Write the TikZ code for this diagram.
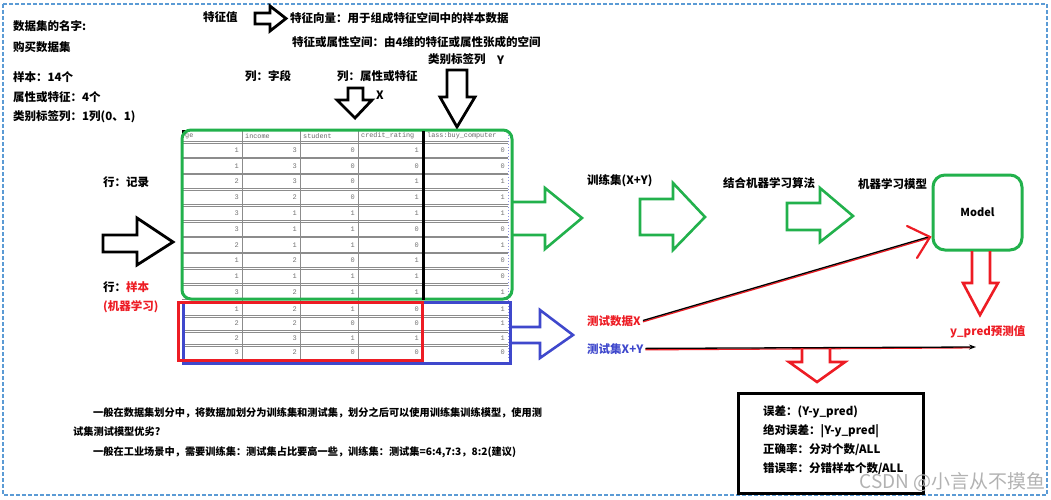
\documentclass[tikz,border=0pt]{standalone}
\usepackage{fontspec}
\setmainfont{Noto Sans CJK SC}
\newfontfamily\tblfont{Liberation Mono}
\usetikzlibrary{arrows.meta}
\definecolor{pgreen}{RGB}{34,177,76}
\definecolor{pred}{RGB}{237,28,36}
\definecolor{pblue}{RGB}{63,72,204}
\definecolor{bord}{RGB}{91,155,213}
\begin{document}
\begin{tikzpicture}[x=1pt,y=-1pt,
  txt/.style={font=\fontsize{11.5}{13}\selectfont\bfseries, anchor=west, inner sep=0pt},
  para/.style={font=\fontsize{10.2}{12}\selectfont\bfseries, anchor=west, inner sep=0pt},
  cell/.style={font=\tblfont\fontsize{7}{8}\selectfont, text=black!55, anchor=east, inner sep=0pt},
  head/.style={font=\tblfont\fontsize{6.8}{7}\selectfont, text=black!60, anchor=west, inner sep=0pt},
  blkarrow/.style={draw=black, line width=2.8, line join=miter},
  grnarrow/.style={draw=pgreen, line width=2.6, line join=miter},
  redarrow/.style={draw=pred, line width=2.6, line join=miter},
  bluarrow/.style={draw=pblue, line width=2.6, line join=miter},
  rowline/.style={draw=black!45, line width=0.5},
]
\useasboundingbox (0,0) rectangle (1051,500);
\draw[bord, line width=1.2, dash pattern=on 4pt off 2pt] (3,4) rectangle (1047,495);

% left texts
\node[txt] (n1) at (13,26) {数据集的名字:};
\node[txt] (n2) at (13,47) {购买数据集};
\node[txt] (n3) at (13,77) {样本：14个};
\node[txt] (n4) at (13,97) {属性或特征：4个};
\node[txt] (n5) at (13,117) {类别标签列：1列(0、1)};

% top texts
\node[txt] (fv) at (203,17) {特征值};
\node[txt] (fvec) at (290,18) {特征向量：用于组成特征空间中的样本数据};
\node[txt] (fsp) at (292,42) {特征或属性空间：由4维的特征或属性张成的空间};
\node[txt] (lbl) at (428,59) {类别标签列};
\node[txt] (ylbl) at (497,60) {Y};
\node[txt] (col1) at (245,76) {列：字段};
\node[txt] (col2) at (337,76) {列：属性或特征};
\node[txt] (xlbl) at (376,95) {X};

\draw[blkarrow] (255,13) -- (270,13) -- (270,6) -- (286,18.5) -- (270,31) -- (270,24) -- (255,24) -- cycle;
\draw[blkarrow] (348,88) -- (363,88) -- (363,100) -- (372,100) -- (355,118) -- (337,100) -- (348,100) -- cycle;
\draw[blkarrow] (447,70) -- (467,70) -- (467,97) -- (475,97) -- (457,127) -- (440,97) -- (447,97) -- cycle;

% left row labels
\node[txt] (row1) at (103,182) {行：记录};
\node[txt] (row2) at (103,287) {行：\textcolor{pred}{样本}};
\node[txt, text=pred] (row3) at (103,307) {(机器学习)};
\draw[blkarrow] (103,235) -- (137,235) -- (137,218) -- (173,242) -- (137,265) -- (137,252) -- (103,252) -- cycle;

% table grid
\foreach \k in {0,...,10} {
  \draw[rowline] (182,142+\k*15.8-0.8) -- (508,142+\k*15.8-0.8);
  \draw[rowline] (182,142+\k*15.8+0.8) -- (508,142+\k*15.8+0.8);
}
\foreach \yy in {316.5,331,345.5} {
  \draw[rowline] (182,\yy-0.8) -- (508,\yy-0.8);
  \draw[rowline] (182,\yy+0.8) -- (508,\yy+0.8);
}
\foreach \xx in {242,300,358} \draw[draw=black!45, line width=0.6] (\xx,130) -- (\xx,360);
\draw[pblue!60, dotted, line width=1] (508,132) -- (508,360);
\fill[black] (182,130) -- (189,130) -- (182,137) -- cycle;

\node[head] (h1) at (185,136) {ge};
\node[head] (h2) at (245,136) {income};
\node[head] (h3) at (303,136) {student};
\node[head] (h4) at (361,136) {credit\_rating};
\node[head] (h5) at (427,136) {lass:buy\_computer};

\foreach \a/\b/\c/\d/\e [count=\i from 0] in {1/3/0/1/0,1/3/0/0/0,2/3/0/1/1,3/2/0/1/1,3/1/1/1/1,3/1/1/0/0,2/1/1/0/1,1/2/0/1/0,1/1/1/1/0,3/2/1/1/1} {
  \node[cell] (ta\i) at (239,150+\i*15.8) {\a};
  \node[cell] (tb\i) at (297,150+\i*15.8) {\b};
  \node[cell] (tc\i) at (355,150+\i*15.8) {\c};
  \node[cell] (td\i) at (419,150+\i*15.8) {\d};
  \node[cell] (te\i) at (505,150+\i*15.8) {\e};
}
\foreach \a/\b/\c/\d/\e/\yy [count=\i] in {1/2/1/0/1/309,2/2/0/0/1/323.5,2/3/1/1/1/338,3/2/0/0/0/352.5} {
  \node[cell] (sa\i) at (239,\yy) {\a};
  \node[cell] (sb\i) at (297,\yy) {\b};
  \node[cell] (sc\i) at (355,\yy) {\c};
  \node[cell] (sd\i) at (419,\yy) {\d};
  \node[cell] (se\i) at (505,\yy) {\e};
}

% frames
\draw[pgreen, line width=3, rounded corners=9] (182,130) rectangle (512,299);
\draw[black, line width=3] (423,131) -- (423,300);
\draw[pblue, line width=3] (183,302) rectangle (510,363);
\draw[pred, line width=3] (178,302) rectangle (422,360);

% green flow arrows
\draw[grnarrow] (512,202) -- (545,202) -- (545,188) -- (582,218) -- (545,249) -- (545,235) -- (512,235);
\draw[grnarrow] (640,199) -- (673,199) -- (673,183) -- (705,217) -- (673,250) -- (673,235) -- (640,235) -- cycle;
\draw[grnarrow] (787,203) -- (820,203) -- (820,188) -- (853,216) -- (820,242) -- (820,230) -- (787,230) -- cycle;
\node[txt] (train) at (587,181) {训练集(X+Y)};
\node[txt] (algo) at (723,183) {结合机器学习算法};
\node[txt] (mlm) at (858,184) {机器学习模型};

\node[draw=pgreen, line width=3, rounded corners=12, minimum width=89, minimum height=75, font=\fontsize{11}{13}\selectfont\bfseries] (model) at (977.5,212.5) {Model};
\draw[redarrow] (972,251) -- (972,283) -- (963,283) -- (980,315) -- (998,283) -- (990,283) -- (990,251);
\node[txt, text=pred] (ypred) at (950,332) {y\_pred预测值};

% test part
\draw[bluarrow] (510,327) -- (540,327) -- (540,310) -- (573,335) -- (540,358) -- (540,343) -- (510,343);
\node[txt, text=pred] (tx) at (587,321) {测试数据X};
\node[txt, text=pblue] (ts) at (587,349) {测试集X+Y};
\coordinate (mtip) at (930,237);
\coordinate (ptip) at (976,347);
\draw[pred, line width=1.3] ([xshift=2pt,yshift=-0.8pt]tx.east) -- ([yshift=-0.8pt]mtip);
\draw[black, line width=1.3] ([xshift=2pt,yshift=0.5pt]tx.east) -- ([yshift=0.5pt]mtip);
\draw[pred, line width=2.2, line cap=round] (907,226) -- (mtip) -- (917,258);
\draw[pred, line width=1.3] ([xshift=2pt,yshift=-0.8pt]ts.east) -- ([xshift=-6pt,yshift=-0.8pt]ptip);
\draw[black, line width=1.3, -{Stealth[length=7pt,width=5pt]}] ([xshift=2pt,yshift=0.6pt]ts.east) -- (ptip);
\draw[redarrow] (802,348) -- (802,362) -- (789,362) -- (817,382) -- (845,362) -- (830,362) -- (830,348);

% bottom paragraph
\node[para] (p1) at (93,413) {一般在数据集划分中，将数据加划分为训练集和测试集，划分之后可以使用训练集训练模型，使用测};
\node[para] (p2) at (73,432) {试集测试模型优劣?};
\node[para] (p3) at (93,452) {一般在工业场景中，需要训练集：测试集占比要高一些，训练集：测试集=6:4,7:3，8:2(建议)};

% metrics box
\node[draw=black, line width=3, minimum width=185, minimum height=100, inner sep=0pt] (box) at (830.5,443) {};
\node[txt] (m1) at (763,412) {误差：(Y-y\_pred)};
\node[txt] (m2) at (763,431) {绝对误差：|Y-y\_pred|};
\node[txt] (m3) at (763,450) {正确率：分对个数/ALL};
\node[txt] (m4) at (763,469) {错误率：分错样本个数/ALL};

\node[anchor=east, inner sep=0pt, text=black!30, font=\fontsize{19}{21}\selectfont] (wm) at (1046,482) {CSDN @小言从不摸鱼};
\end{tikzpicture}
\end{document}
